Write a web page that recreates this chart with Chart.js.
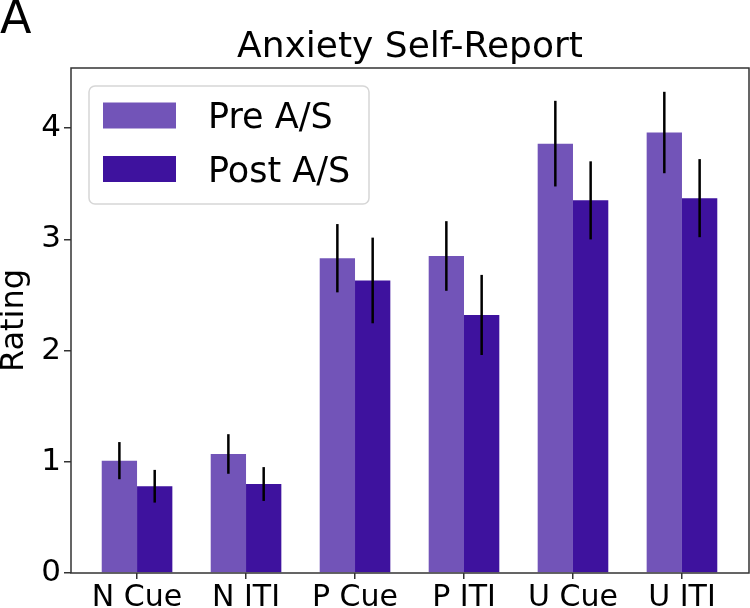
<!DOCTYPE html>
<html>
<head>
<meta charset="utf-8">
<script src="https://cdn.jsdelivr.net/npm/chart.js@4.4.1/dist/chart.umd.min.js"></script>
<style>
	html, body { margin: 0; padding: 0; background: #fff; }
	#wrap { width: 750px; height: 608px; }
</style>
</head>
<body>
<div id="wrap"><canvas id="anxiety-chart"></canvas></div>
<script>
// Conditions on the x axis.
var conditions = ["N Cue", "N ITI", "P Cue", "P ITI", "U Cue", "U ITI"];
var positions = [0, 1, 2, 3, 4, 5];

// Mean ratings.
var preMeans = [1.01, 1.07, 2.83, 2.85, 3.86, 3.96];
var postMeans = [0.78, 0.80, 2.63, 2.32, 3.35, 3.37];

// Error bar half lengths.
var preErrors = [0.167, 0.178, 0.307, 0.313, 0.385, 0.366];
var postErrors = [0.147, 0.152, 0.385, 0.36, 0.351, 0.351];

var yTicks = [0, 1, 2, 3, 4];

var FONT = "'DejaVu Sans', sans-serif";
Chart.defaults.font.family = FONT;
Chart.defaults.color = "#000";

function points(values) {
	return values.map(function (v, i) { return { x: positions[i], y: v }; });
}

// Vertical error lines, no caps.
var errorBars = {
	id: "errorBars",
	afterDatasetsDraw: function (chart) {
		var ctx = chart.ctx, y = chart.scales.y;
		ctx.save();
		ctx.strokeStyle = "#000";
		ctx.lineWidth = 2.5;
		chart.data.datasets.forEach(function (ds, i) {
			chart.getDatasetMeta(i).data.forEach(function (bar, j) {
				var m = ds.data[j].y, e = ds.errors[j];
				ctx.beginPath();
				ctx.moveTo(bar.x, y.getPixelForValue(m - e));
				ctx.lineTo(bar.x, y.getPixelForValue(m + e));
				ctx.stroke();
			});
		});
		ctx.restore();
	}
};

// Frame, titles and the boxed legend.
var decorations = {
	id: "decorations",
	afterDraw: function (chart) {
		var ctx = chart.ctx, a = chart.chartArea;
		ctx.save();

		ctx.strokeStyle = "#333";
		ctx.lineWidth = 1.5;
		ctx.strokeRect(a.left, a.top, a.right - a.left, a.bottom - a.top);

		ctx.fillStyle = "#000";
		ctx.textBaseline = "alphabetic";
		ctx.font = "46px " + FONT;
		ctx.textAlign = "left";
		ctx.fillText("A", 0, 33);

		ctx.font = "36px " + FONT;
		ctx.textAlign = "center";
		ctx.fillText("Anxiety Self-Report", (a.left + a.right) / 2, 57);

		// Legend box.
		var bx = a.left + 18, by = a.top + 18, bw = 280, bh = 118, r = 6;
		ctx.beginPath();
		ctx.moveTo(bx + r, by);
		ctx.lineTo(bx + bw - r, by);
		ctx.arcTo(bx + bw, by, bx + bw, by + r, r);
		ctx.lineTo(bx + bw, by + bh - r);
		ctx.arcTo(bx + bw, by + bh, bx + bw - r, by + bh, r);
		ctx.lineTo(bx + r, by + bh);
		ctx.arcTo(bx, by + bh, bx, by + bh - r, r);
		ctx.lineTo(bx, by + r);
		ctx.arcTo(bx, by, bx + r, by, r);
		ctx.closePath();
		ctx.fillStyle = "rgba(255,255,255,0.8)";
		ctx.fill();
		ctx.strokeStyle = "#d6d6d6";
		ctx.lineWidth = 1.5;
		ctx.stroke();

		ctx.font = "35px " + FONT;
		ctx.textAlign = "left";
		chart.data.datasets.forEach(function (ds, i) {
			var cy = by + 29.5 + i * 53.5;
			ctx.fillStyle = ds.backgroundColor;
			ctx.fillRect(bx + 14, cy - 13, 73, 26);
			ctx.fillStyle = "#000";
			ctx.fillText(ds.label, bx + 119, cy + 12.5);
		});

		ctx.restore();
	}
};

new Chart(document.getElementById("anxiety-chart"), {
	type: "bar",
	data: {
		datasets: [
			{
				label: "Pre A/S",
				data: points(preMeans),
				errors: preErrors,
				backgroundColor: "#7254b8"
			},
			{
				label: "Post A/S",
				data: points(postMeans),
				errors: postErrors,
				backgroundColor: "#3e129e"
			}
		]
	},
	options: {
		responsive: true,
		maintainAspectRatio: false,
		animation: false,
		categoryPercentage: 0.648,
		barPercentage: 1.0,
		layout: { padding: { top: 68, right: 1, left: 0, bottom: 0 } },
		plugins: {
			legend: { display: false },
			title: { display: false },
			tooltip: { enabled: false }
		},
		scales: {
			x: {
				type: "linear",
				min: -0.606,
				max: 5.615,
				offset: false,
				afterBuildTicks: function (scale) {
					scale.ticks = positions.map(function (v) { return { value: v }; });
				},
				ticks: {
					callback: function (v) { return conditions[v]; },
					font: { size: 30 },
					padding: 1,
					maxRotation: 0,
					autoSkip: false
				},
				grid: { offset: false, drawOnChartArea: false, tickLength: 6, color: "#333", lineWidth: 1.5 },
				border: { display: false },
				afterFit: function (scale) { scale.height = 35; }
			},
			y: {
				min: 0,
				max: 4.54,
				afterBuildTicks: function (scale) {
					scale.ticks = yTicks.map(function (v) { return { value: v }; });
				},
				ticks: { font: { size: 31 }, padding: 3 },
				grid: { drawOnChartArea: false, tickLength: 7, color: "#333", lineWidth: 1.5 },
				border: { display: false },
				title: { display: true, text: "Rating", font: { size: 32 }, padding: { top: -5, bottom: 0 } },
				afterFit: function (scale) { scale.width = 71; }
			}
		}
	},
	plugins: [errorBars, decorations]
});
</script>
</body>
</html>
